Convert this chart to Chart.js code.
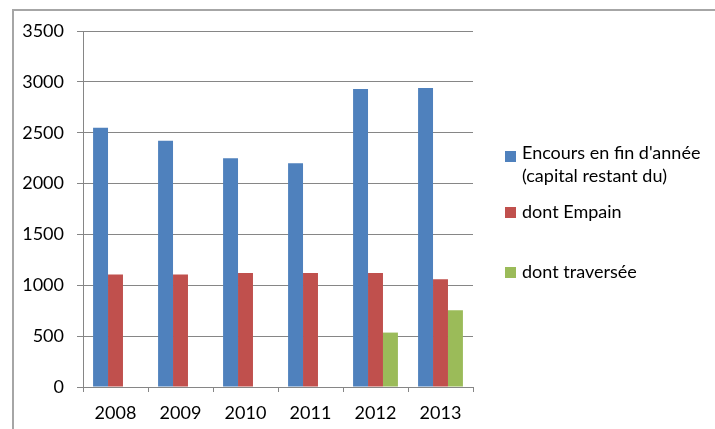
<!DOCTYPE html>
<html>
<head>
<meta charset="utf-8">
<script src="https://cdn.jsdelivr.net/npm/chart.js@4.4.1/dist/chart.umd.min.js"></script>
<style>
html,body{margin:0;padding:0;background:#fff;}
#wrap{position:relative;width:715px;height:429px;overflow:hidden;}
#frame{position:absolute;left:12px;top:9px;width:800px;height:500px;border-top:2px solid #a6a6a6;border-left:2px solid #a6a6a6;box-sizing:border-box;}
canvas{position:absolute;left:0;top:0;}
.lg{position:absolute;font-family:Lato,"Liberation Sans",sans-serif;font-size:18px;color:#000;line-height:20px;white-space:nowrap;}
.sq{position:absolute;width:11px;height:11px;}
</style>
</head>
<body>
<div id="wrap">
<div id="frame"></div>
<canvas id="c" width="715" height="429"></canvas>
<div class="sq" style="left:505px;top:151px;background:#4F81BD"></div>
<div class="lg" style="left:522px;top:142px">Encours en fin d'année</div>
<div class="lg" style="left:522px;top:165px">(capital restant du)</div>
<div class="sq" style="left:505px;top:207px;background:#C0504D"></div>
<div class="lg" style="left:522px;top:201px">dont Empain</div>
<div class="sq" style="left:505px;top:267px;background:#9BBB59"></div>
<div class="lg" style="left:522px;top:261px">dont traversée</div>
</div>
<script>
const categories = ["2008","2009","2010","2011","2012","2013"];
const encours = [2550, 2420, 2250, 2200, 2930, 2940];
const empain = [1105, 1105, 1120, 1120, 1120, 1060];
const traversee = [null, null, null, null, 535, 755];
const seriesNames = ["Encours en fin d'année (capital restant du)", "dont Empain", "dont traversée"];

const FONT = {family: "Lato, 'Liberation Sans', sans-serif", size: 18};
const GRID = "#868686";

new Chart(document.getElementById('c'), {
  type: 'bar',
  data: {
    labels: categories,
    datasets: [
      {label: seriesNames[0], data: encours, backgroundColor: '#4F81BD'},
      {label: seriesNames[1], data: empain, backgroundColor: '#C0504D'},
      {label: seriesNames[2], data: traversee, backgroundColor: '#9BBB59'}
    ]
  },
  options: {
    responsive: false,
    animation: false,
    devicePixelRatio: 1,
    layout: {padding: {left: 0, right: 242, top: 31, bottom: 0}},
    datasets: {bar: {categoryPercentage: 0.69, barPercentage: 1.0, borderWidth: 0}},
    plugins: {legend: {display: false}, tooltip: {enabled: false}},
    scales: {
      x: {
        offset: true,
        grid: {display: true, drawOnChartArea: false, drawTicks: true, tickLength: 5, color: GRID, offset: true},
        border: {color: GRID, width: 1},
        ticks: {color: '#000', font: FONT, padding: 10, maxRotation: 0},
        afterFit: (s) => { s.height = 42; }
      },
      y: {
        min: 0, max: 3500,
        grid: {color: GRID, lineWidth: 1, tickLength: 6, drawTicks: true},
        border: {color: GRID, width: 1},
        ticks: {stepSize: 500, color: '#000', font: FONT, padding: 13, callback: (v) => String(v)},
        afterFit: (s) => { s.width = 83; }
      }
    }
  }
});
</script>
</body>
</html>
